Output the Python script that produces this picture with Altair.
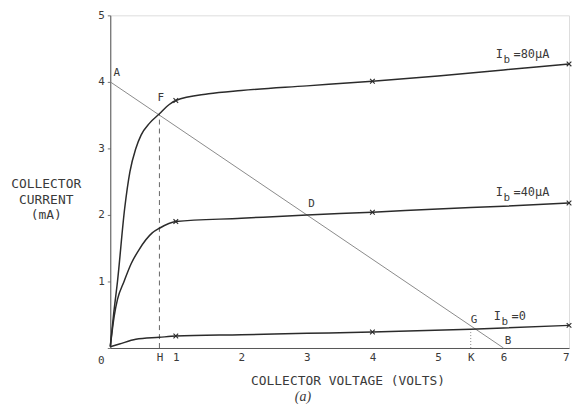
import altair as alt
import pandas as pd

# ---- data ----
v80 = [0.0, 0.05, 0.11, 0.22, 0.3, 0.39, 0.47, 0.6, 0.75, 0.9, 1.0, 1.5, 2.0, 3.0, 4.0, 5.0, 6.0, 7.0]
i80 = [0.02, 0.5, 1.0, 2.1, 2.65, 3.0, 3.2, 3.38, 3.52, 3.66, 3.72, 3.82, 3.87, 3.94, 4.01, 4.09, 4.18, 4.27]
v40 = [0.0, 0.06, 0.11, 0.21, 0.32, 0.44, 0.64, 0.75, 1.0, 2.0, 3.0, 4.0, 5.0, 6.0, 7.0]
i40 = [0.02, 0.48, 0.73, 1.0, 1.27, 1.48, 1.73, 1.8, 1.9, 1.95, 2.0, 2.04, 2.09, 2.13, 2.18]
v0 = [0.0, 0.14, 0.39, 0.75, 1.0, 2.0, 3.0, 4.0, 5.5, 7.0]
i0 = [0.02, 0.06, 0.13, 0.16, 0.18, 0.2, 0.22, 0.24, 0.28, 0.34]

marker_v = [1.0, 4.0, 7.0]
marker_i80 = [3.72, 4.01, 4.27]
marker_i40 = [1.9, 2.04, 2.18]
marker_i0 = [0.18, 0.24, 0.34]

load_v = [0.0, 6.0]          # A -> B
load_i = [4.0, 0.0]

point_names = ["A", "F", "D", "G", "B"]
point_x = [0.1, 0.77, 3.07, 5.55, 6.07]
point_y = [4.13, 3.75, 2.16, 0.42, 0.1]

series_names = ["=80\u00b5A", "=40\u00b5A", "=0"]
series_lx = [5.88, 5.88, 5.85]
series_ly = [4.42, 2.34, 0.48]

x_ticks = [0, 0.75, 1, 2, 3, 4, 5, 5.5, 6, 7]
y_ticks = [0, 1, 2, 3, 4, 5]

FONT = "DejaVu Sans Mono"
INK = "#3a3a3a"

curves = pd.DataFrame(
    {"v": v80 + v40 + v0,
     "i": i80 + i40 + i0,
     "s": ["80"] * len(v80) + ["40"] * len(v40) + ["0"] * len(v0)}
)
marks = pd.DataFrame(
    {"v": marker_v * 3, "i": marker_i80 + marker_i40 + marker_i0}
)
load = pd.DataFrame({"v": load_v, "i": load_i})
pts = pd.DataFrame({"t": point_names, "v": point_x, "i": point_y})
ib = pd.DataFrame({"t": series_names, "v": series_lx, "i": series_ly})

xs = alt.Scale(domain=[0, 7], nice=False, zero=False)
ys = alt.Scale(domain=[0, 5], nice=False, zero=False)

x_axis = alt.Axis(
    values=x_ticks,
    labelExpr="datum.value == 0 ? '' : datum.value == 0.75 ? 'H' : datum.value == 5.5 ? 'K' : format(datum.value, 'd')",
    title="COLLECTOR VOLTAGE (VOLTS)",
    titleX=239, titleY=33, titleAlign="center", titleBaseline="middle",
    titleFont=FONT, titleFontSize=13, titleFontWeight="normal", titleColor=INK,
    labelFont=FONT, labelFontSize=11, labelColor=INK, labelPadding=4,
    grid=False, ticks=False, domainColor="#555", domainWidth=1,
)
y_axis = alt.Axis(
    values=y_ticks,
    labelExpr="datum.value == 0 ? '' : format(datum.value, 'd')",
    title=["COLLECTOR", "CURRENT", "(mA)"],
    titleAngle=0, titleX=-65, titleY=169, titleAlign="center", titleBaseline="middle",
    titleLineHeight=16,
    titleFont=FONT, titleFontSize=13, titleFontWeight="normal", titleColor=INK,
    labelFont=FONT, labelFontSize=11, labelColor=INK, labelPadding=3,
    grid=False, tickSize=3, tickColor="#777", domainColor="#555", domainWidth=1,
)

X = alt.X("v:Q", scale=xs, axis=x_axis)
Y = alt.Y("i:Q", scale=ys, axis=y_axis)
Xn = alt.X("v:Q", scale=xs)
Yn = alt.Y("i:Q", scale=ys)

lines = alt.Chart(curves).mark_line(
    interpolate="monotone", color="#2b2b2b", strokeWidth=1.5
).encode(x=X, y=Y, detail="s:N")

crosses = alt.Chart(marks).mark_point(
    shape="M-1,-1L1,1M1,-1L-1,1", filled=False, color="#2b2b2b",
    strokeWidth=1.1, size=22, opacity=1
).encode(x=Xn, y=Yn)

loadline = alt.Chart(load).mark_line(color="#8a8a8a", strokeWidth=1).encode(x=Xn, y=Yn)

h_line = alt.Chart(pd.DataFrame({"v": [0.75], "i0": [0.0], "i1": [3.52]})).mark_rule(
    color="#666", strokeWidth=1, strokeDash=[5, 4]
).encode(x=alt.X("v:Q", scale=xs), y=alt.Y("i0:Q", scale=ys), y2="i1:Q")

k_line = alt.Chart(pd.DataFrame({"v": [5.5], "i0": [0.0], "i1": [0.28]})).mark_rule(
    color="#888", strokeWidth=1, strokeDash=[1, 2]
).encode(x=alt.X("v:Q", scale=xs), y=alt.Y("i0:Q", scale=ys), y2="i1:Q")

point_text = alt.Chart(pts).mark_text(
    font=FONT, fontSize=11, color=INK, align="center", baseline="middle"
).encode(x=Xn, y=Yn, text="t:N")

ib_I = alt.Chart(ib).mark_text(
    font=FONT, fontSize=12, color=INK, align="left", baseline="middle", text="I"
).encode(x=Xn, y=Yn)
ib_b = alt.Chart(ib).mark_text(
    font=FONT, fontSize=11, color=INK, align="left", baseline="middle", text="b", dx=8, dy=6
).encode(x=Xn, y=Yn)
ib_rest = alt.Chart(ib).mark_text(
    font=FONT, fontSize=12, color=INK, align="left", baseline="middle", dx=18
).encode(x=Xn, y=Yn, text="t:N")

origin = alt.Chart(pd.DataFrame({"v": [0.0], "i": [0.0], "t": ["0"]})).mark_text(
    font=FONT, fontSize=11, color=INK, align="center", baseline="middle", dx=-9, dy=13
).encode(x=Xn, y=Yn, text="t:N")

caption = alt.Chart(pd.DataFrame({"v": [2.94], "i": [-0.74], "t": ["(a)"]})).mark_text(
    font="Liberation Serif", fontSize=14, fontStyle="italic", color=INK,
    align="center", baseline="middle", clip=False
).encode(x=Xn, y=Yn, text="t:N")

chart = alt.layer(
    loadline, h_line, k_line, lines, crosses, point_text, ib_I, ib_b, ib_rest, origin, caption
).properties(
    width=462, height=335,
    autosize=alt.AutoSizeParams(type="none"),
    padding={"left": 103, "top": 6, "right": 4, "bottom": 55},
).configure_view(stroke=None).configure(background="white")

chart.save("out.html", embed_options={"renderer": "svg", "actions": False})
